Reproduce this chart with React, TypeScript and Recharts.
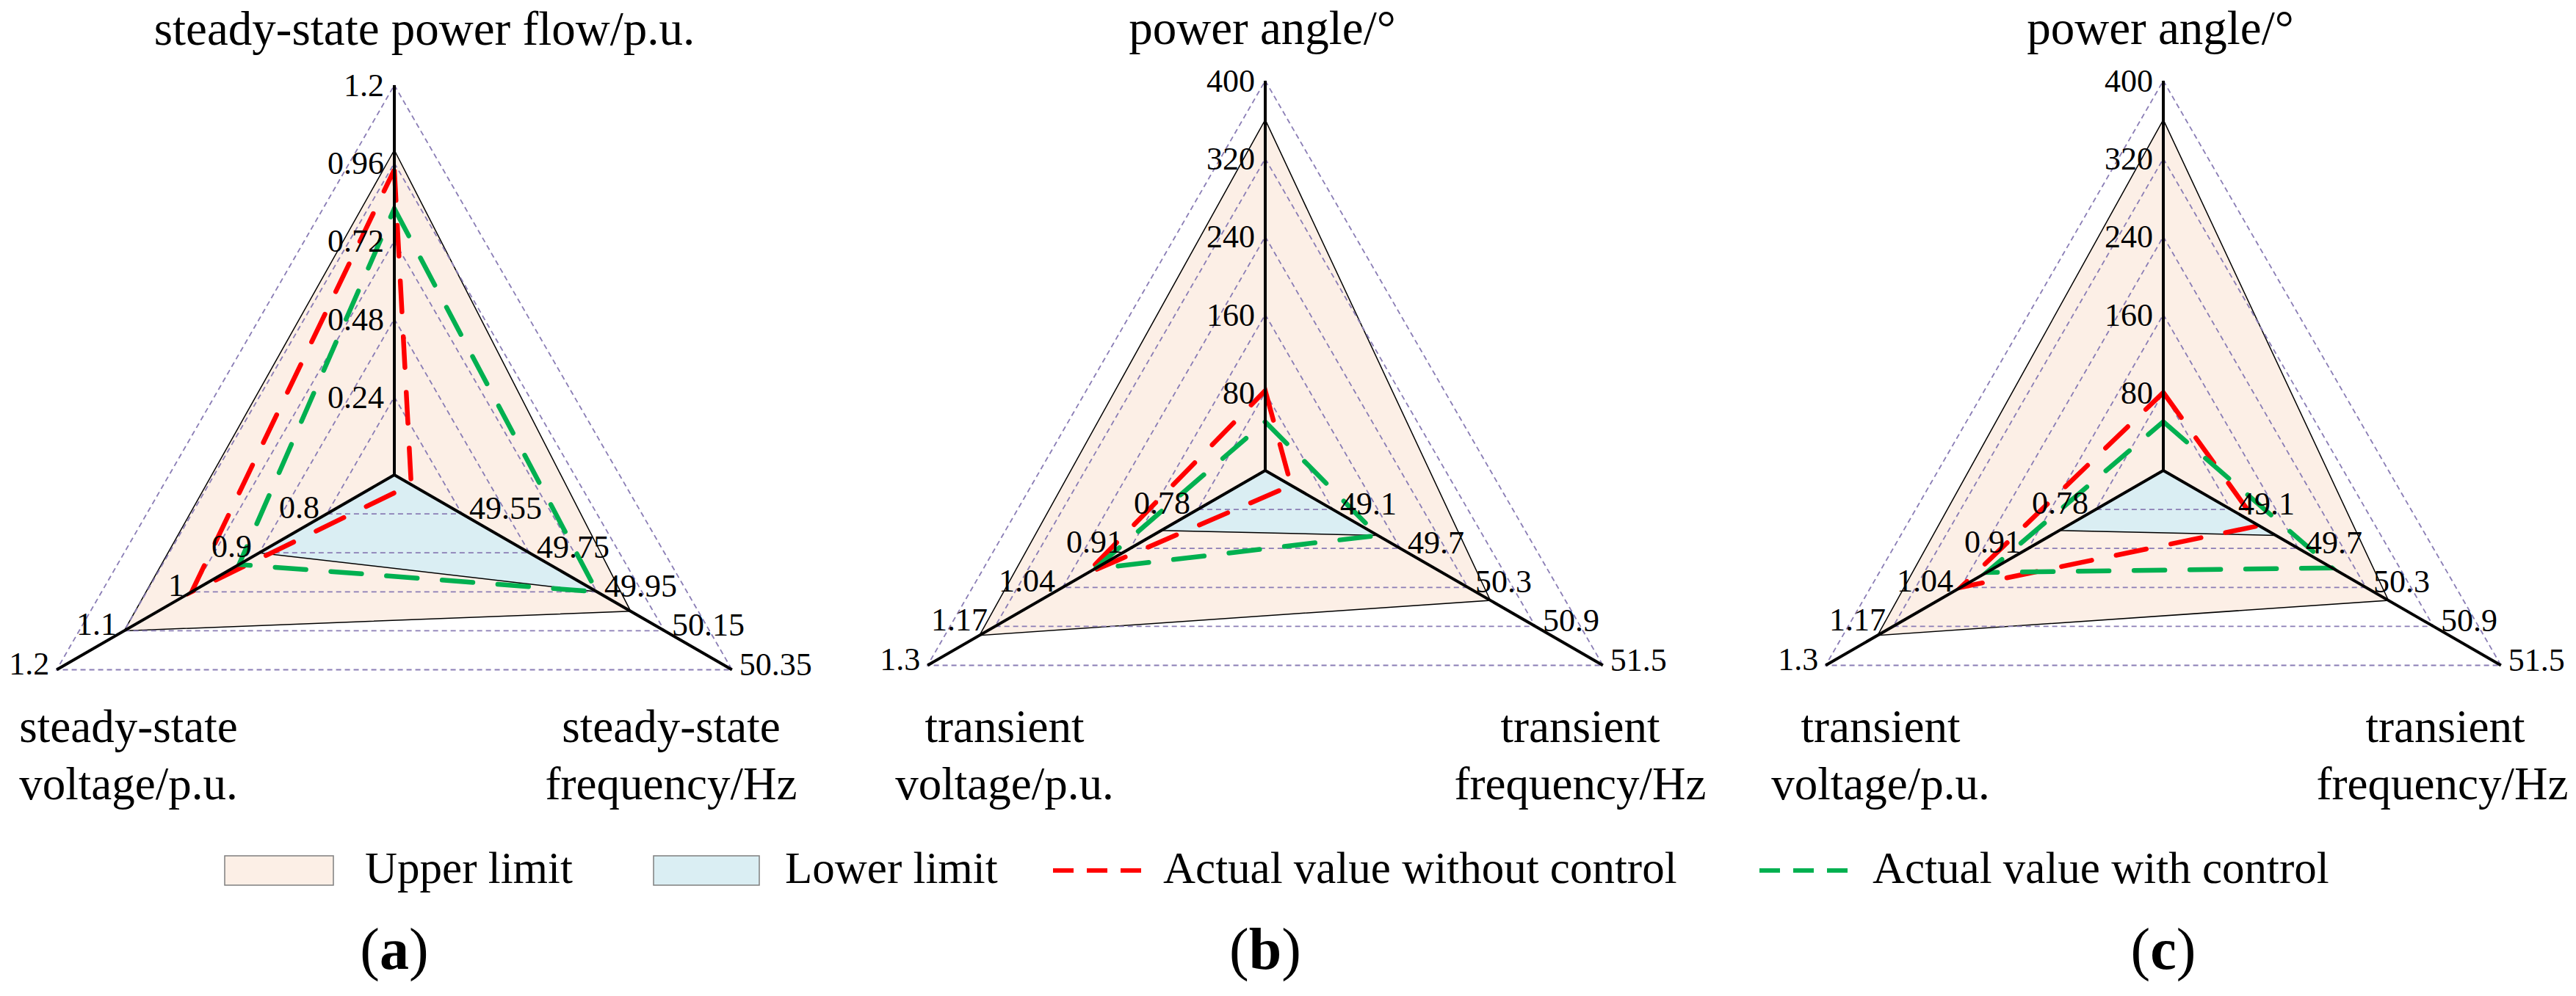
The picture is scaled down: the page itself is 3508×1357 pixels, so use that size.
import React from 'react';
import { RadarChart, Radar, PolarGrid, PolarAngleAxis, PolarRadiusAxis } from 'recharts';

const FONT = '"Liberation Serif", "Times New Roman", serif';

// ---- Panel (a): steady state ----
const axesA = ['steady-state power flow/p.u.', 'steady-state frequency/Hz', 'steady-state voltage/p.u.'];
const domainsA = [[0, 1.2], [49.35, 50.35], [0.7, 1.2]];
const ticksA = [
  ['0.24', '0.48', '0.72', '0.96', '1.2'],
  ['49.55', '49.75', '49.95', '50.15', '50.35'],
  ['0.8', '0.9', '1', '1.1', '1.2'],
];
const upperA = [1.0, 50.05, 1.1];
const lowerA = [0, 49.95, 0.9];
const withoutA = [0.94, 49.4, 1.0];
const withA = [0.82, 49.95, 0.93];

// ---- Panel (b): transient, case 1 ----
const axesB = ['power angle/°', 'transient frequency/Hz', 'transient voltage/p.u.'];
const domainsB = [[0, 400], [48.5, 51.5], [0.65, 1.3]];
const ticksB = [
  ['80', '160', '240', '320', '400'],
  ['49.1', '49.7', '50.3', '50.9', '51.5'],
  ['0.78', '0.91', '1.04', '1.17', '1.3'],
];
const upperB = [360, 50.5, 1.2];
const lowerB = [0, 49.5, 0.85];
const withoutB = [82, 48.73, 0.995];
const withB = [50, 49.5, 0.978];

// ---- Panel (c): transient, case 2 ----
const axesC = ['power angle/°', 'transient frequency/Hz', 'transient voltage/p.u.'];
const domainsC = [[0, 400], [48.5, 51.5], [0.65, 1.3]];
const ticksC = [
  ['80', '160', '240', '320', '400'],
  ['49.1', '49.7', '50.3', '50.9', '51.5'],
  ['0.78', '0.91', '1.04', '1.17', '1.3'],
];
const upperC = [360, 50.5, 1.2];
const lowerC = [0, 49.5, 0.85];
const withoutC = [80, 49.35, 1.04];
const withC = [50, 50.0, 0.99];

const legendLabels = ['Upper limit', 'Lower limit', 'Actual value without control', 'Actual value with control'];
const panelLetters = ['a', 'b', 'c'];
const radiusTicks = [0, 0.2, 0.4, 0.6, 0.8, 1];

const PEACH = '#FCEFE6';
const BLUE = '#DAEEF3';
const RED = '#FF0000';
const GREEN = '#00B050';
const GRID = '#8A7DB5';

const W = 1169;
const H = 1000;
const R = 531;
const axisAngles = [90, -30, 210];

type PanelProps = {
  left: number;
  cx: number;
  cy: number;
  axes: string[];
  domains: number[][];
  ticks: string[][];
  upper: number[];
  lower: number[];
  without: number[];
  withc: number[];
};

const layer: React.CSSProperties = { position: 'absolute', left: 0, top: 0 };

function Panel(p: PanelProps) {
  const data = p.axes.map((a, i) => {
    const [lo, hi] = p.domains[i];
    const f = (v: number) => (v - lo) / (hi - lo);
    return {
      axis: a,
      upper: f(p.upper[i]),
      lower: f(p.lower[i]),
      without: f(p.without[i]),
      withc: f(p.withc[i]),
    };
  });
  const tickRenderer = (k: number) => (props: any) => {
    const { x, y, payload } = props;
    const idx = Math.round(payload.value * 5);
    if (idx <= 0) return <g />;
    const label = p.ticks[k][idx - 1];
    const common = { fontFamily: FONT, fontSize: 44, fill: '#000' };
    if (k === 0)
      return (
        <text x={x - 14} y={y + 15} textAnchor="end" {...common}>
          {label}
        </text>
      );
    if (k === 1)
      return (
        <text x={x + 10} y={y + 7} textAnchor="start" {...common}>
          {label}
        </text>
      );
    return (
      <text x={x - 10} y={y + 6} textAnchor="end" {...common}>
        {label}
      </text>
    );
  };
  const chartProps = {
    width: W,
    height: H,
    cx: p.cx,
    cy: p.cy,
    outerRadius: R,
    data,
    margin: { top: 0, right: 0, bottom: 0, left: 0 },
  };
  return (
    <div style={{ position: 'absolute', left: p.left, top: 0, width: W, height: H }}>
      {/* layer 1: limit areas */}
      <div style={layer}>
        <RadarChart {...chartProps}>
          <PolarAngleAxis dataKey="axis" tick={false} axisLine={false} tickLine={false} />
          <PolarRadiusAxis angle={90} domain={[0, 1]} ticks={radiusTicks} tickCount={6} axisLine={false} tick={false} />
          <Radar dataKey="upper" fill={PEACH} fillOpacity={1} stroke="#000" strokeWidth={1.5} dot={false} isAnimationActive={false} />
          <Radar dataKey="lower" fill={BLUE} fillOpacity={1} stroke="#000" strokeWidth={1.5} dot={false} isAnimationActive={false} />
        </RadarChart>
      </div>
      {/* layer 2: grid + actual values */}
      <div style={layer}>
        <RadarChart {...chartProps}>
          <PolarAngleAxis dataKey="axis" tick={false} axisLine={false} tickLine={false} />
          <PolarRadiusAxis angle={90} domain={[0, 1]} ticks={radiusTicks} tickCount={6} axisLine={false} tick={false} />
          <PolarGrid gridType="polygon" radialLines={false} stroke={GRID} strokeDasharray="7 5" strokeWidth={1.8} />
          <Radar dataKey="without" fill="none" fillOpacity={0} stroke={RED} strokeWidth={6.5} strokeDasharray="42 34" strokeLinecap="round" dot={false} isAnimationActive={false} />
          <Radar dataKey="withc" fill="none" fillOpacity={0} stroke={GREEN} strokeWidth={6.5} strokeDasharray="42 34" strokeLinecap="round" dot={false} isAnimationActive={false} />
        </RadarChart>
      </div>
      {/* layers 3-5: the three value axes */}
      {axisAngles.map((ang, k) => (
        <div key={k} style={layer}>
          <RadarChart {...chartProps}>
            <PolarAngleAxis dataKey="axis" tick={false} axisLine={false} tickLine={false} />
            <PolarRadiusAxis
              angle={ang}
              domain={[0, 1]}
              ticks={radiusTicks}
              tickCount={6}
              axisLine={{ stroke: '#000', strokeWidth: 4 }}
              tick={tickRenderer(k)}
            />
            <Radar dataKey="upper" fill="none" fillOpacity={0} stroke="none" dot={false} isAnimationActive={false} />
          </RadarChart>
        </div>
      ))}
    </div>
  );
}

function Overlay() {
  const t = { fontFamily: FONT, fill: '#000' };
  const TS = 63;
  return (
    <svg width={3508} height={1357} style={{ position: 'absolute', left: 0, top: 0, pointerEvents: 'none' }}>
      {/* top titles */}
      <text x={578} y={61} textAnchor="middle" fontSize={65} {...t}>{axesA[0]}</text>
      <text x={1719} y={60} textAnchor="middle" fontSize={65} {...t}>{axesB[0]}</text>
      <text x={2942} y={60} textAnchor="middle" fontSize={65} {...t}>{axesC[0]}</text>
      {/* bottom titles (a) */}
      <text x={175} y={1011} textAnchor="middle" fontSize={TS} {...t}>steady-state</text>
      <text x={175} y={1089} textAnchor="middle" fontSize={TS} {...t}>voltage/p.u.</text>
      <text x={914} y={1011} textAnchor="middle" fontSize={TS} {...t}>steady-state</text>
      <text x={914} y={1089} textAnchor="middle" fontSize={TS} {...t}>frequency/Hz</text>
      {/* (b) */}
      <text x={1368} y={1011} textAnchor="middle" fontSize={TS} {...t}>transient</text>
      <text x={1368} y={1089} textAnchor="middle" fontSize={TS} {...t}>voltage/p.u.</text>
      <text x={2152} y={1011} textAnchor="middle" fontSize={TS} {...t}>transient</text>
      <text x={2152} y={1089} textAnchor="middle" fontSize={TS} {...t}>frequency/Hz</text>
      {/* (c) */}
      <text x={2561} y={1011} textAnchor="middle" fontSize={TS} {...t}>transient</text>
      <text x={2561} y={1089} textAnchor="middle" fontSize={TS} {...t}>voltage/p.u.</text>
      <text x={3330} y={1011} textAnchor="middle" fontSize={TS} {...t}>transient</text>
      <text x={3326} y={1089} textAnchor="middle" fontSize={TS} {...t}>frequency/Hz</text>

      {/* legend */}
      <rect x={306} y={1166} width={148} height={40} fill={PEACH} stroke="#7F7F7F" strokeWidth={1.5} />
      <text x={497} y={1203} fontSize={61} {...t}>{legendLabels[0]}</text>
      <rect x={890} y={1166} width={144} height={40} fill={BLUE} stroke="#7F7F7F" strokeWidth={1.5} />
      <text x={1069} y={1203} fontSize={61} {...t}>{legendLabels[1]}</text>
      <line x1={1434} y1={1186} x2={1555} y2={1186} stroke={RED} strokeWidth={6} strokeDasharray="28 18" />
      <text x={1584} y={1203} fontSize={61} {...t}>{legendLabels[2]}</text>
      <line x1={2396} y1={1186} x2={2521} y2={1186} stroke={GREEN} strokeWidth={6} strokeDasharray="28 18" />
      <text x={2550} y={1203} fontSize={61} {...t}>{legendLabels[3]}</text>

      {/* panel labels */}
      {[537, 1723, 2946].map((x, i) => (
        <text key={i} x={x} y={1320} textAnchor="middle" fontSize={80} {...t}>
          (<tspan fontWeight="bold">{panelLetters[i]}</tspan>)
        </text>
      ))}
    </svg>
  );
}

export default function App() {
  return (
    <div style={{ position: 'absolute', left: 0, top: 0, width: 3508, height: 1357, background: '#fff', overflow: 'hidden' }}>
      <Panel left={0} cx={537} cy={647} axes={axesA} domains={domainsA} ticks={ticksA} upper={upperA} lower={lowerA} without={withoutA} withc={withA} />
      <Panel left={1169} cx={554} cy={641} axes={axesB} domains={domainsB} ticks={ticksB} upper={upperB} lower={lowerB} without={withoutB} withc={withB} />
      <Panel left={2338} cx={608} cy={641} axes={axesC} domains={domainsC} ticks={ticksC} upper={upperC} lower={lowerC} without={withoutC} withc={withC} />
      <Overlay />
    </div>
  );
}
